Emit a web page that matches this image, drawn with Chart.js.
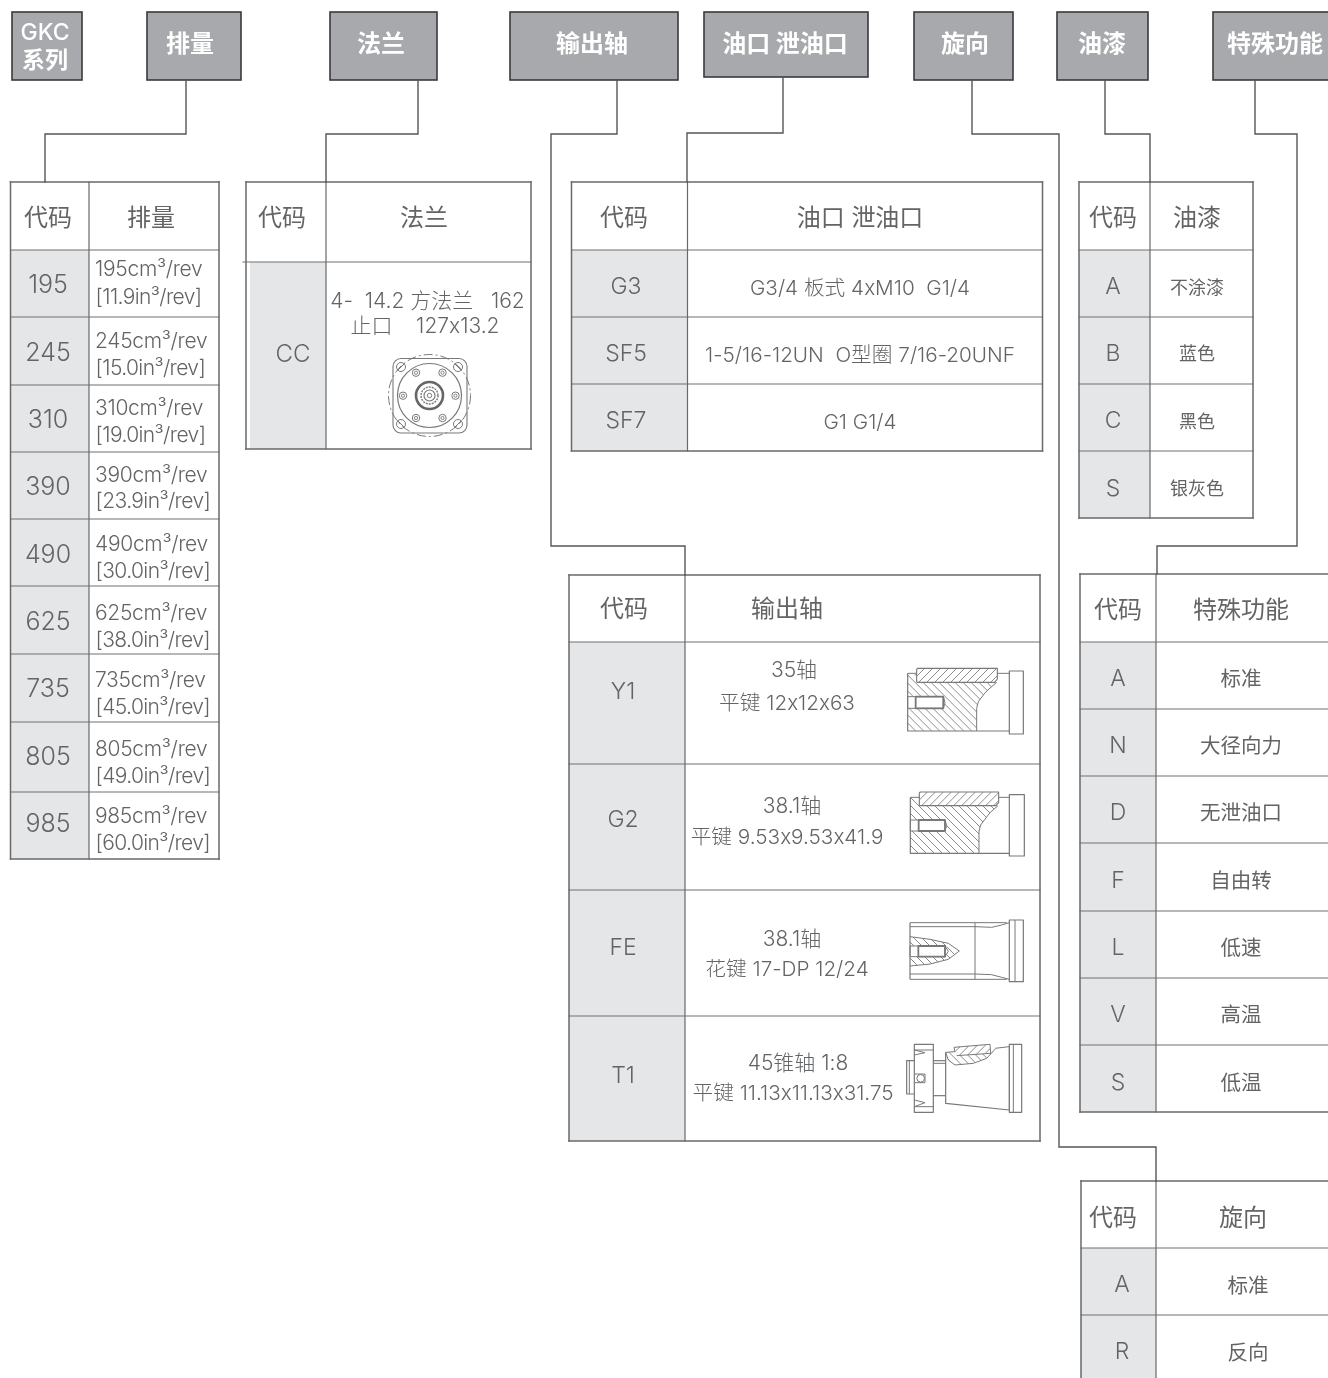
<!DOCTYPE html>
<html><head><meta charset="utf-8">
<style>html,body{margin:0;padding:0;background:#fff;overflow:hidden}canvas{display:block}</style>
<script src="https://cdn.jsdelivr.net/npm/chart.js@4"></script>
</head><body><canvas id="c" width="1328" height="1378"></canvas>
<script>
// ---- texts ----
const headerLabels = ['排量','法兰','输出轴','油口 泄油口','旋向','油漆','特殊功能'];
const seriesLabels = ['GKC','系列'];
const colCode = '代码';
const dispCodes = ['195','245','310','390','490','625','735','805','985'];
const dispCm = ['195cm³/rev','245cm³/rev','310cm³/rev','390cm³/rev','490cm³/rev','625cm³/rev','735cm³/rev','805cm³/rev','985cm³/rev'];
const dispIn = ['[11.9in³/rev]','[15.0in³/rev]','[19.0in³/rev]','[23.9in³/rev]','[30.0in³/rev]','[38.0in³/rev]','[45.0in³/rev]','[49.0in³/rev]','[60.0in³/rev]'];
const flangeCodes = ['CC'];
const flangeText = ['4-  14.2 方法兰   162','止口    127x13.2'];
const portCodes = ['G3','SF5','SF7'];
const portText = ['G3/4 板式 4xM10  G1/4','1-5/16-12UN  O型圈 7/16-20UNF','G1 G1/4'];
const shaftCodes = ['Y1','G2','FE','T1'];
const shaftLine1 = ['35轴','38.1轴','38.1轴','45锥轴 1:8'];
const shaftLine2 = ['平键 12x12x63','平键 9.53x9.53x41.9','花键 17-DP 12/24','平键 11.13x11.13x31.75'];
const paintCodes = ['A','B','C','S'];
const paintText = ['不涂漆','蓝色','黑色','银灰色'];
const specialCodes = ['A','N','D','F','L','V','S'];
const specialText = ['标准','大径向力','无泄油口','自由转','低速','高温','低温'];
const rotCodes = ['A','R'];
const rotText = ['标准','反向'];

// ---- layout, in page units of the two linear scales ----
const boxX = [[147,241],[330,437],[510,678],[704,868],[914,1013],[1057,1148],[1213,1340]];
const boxY = [[12,80],[12,80],[12,80],[12,77],[12,80],[12,80],[12,80]];
const boxTextX = [190,381,592,785,965,1102,1275];
const links = [
 [[186,81],[186,134],[45,134],[45,182]],
 [[418,81],[418,134],[326,134],[326,182]],
 [[617,81],[617,134],[551,134],[551,546],[685,546],[685,575]],
 [[783,77],[783,133],[687,133],[687,182]],
 [[972,81],[972,134],[1059,134],[1059,1147],[1156,1147],[1156,1181]],
 [[1105,81],[1105,134],[1150,134],[1150,182]],
 [[1255,81],[1255,134],[1297,134],[1297,546],[1157,546],[1157,574]]
];
const tables = [
 {x:[10.5,89,219],   y:[182,250,317,385,452,519,586,654,722,792,859], g:10.5},
 {x:[246,326,531],   y:[182,262,449], g:250},
 {x:[571.5,687.5,1042.5], y:[182,250,317,384,451], g:571.5},
 {x:[569,685,1040],  y:[575,642,764,890,1016,1141], g:569},
 {x:[1079,1150,1253],y:[182,250,317,384,451,518], g:1079},
 {x:[1080,1156,1340],y:[574,642,709,776,843,911,978,1045,1112], g:1080},
 {x:[1081,1156,1340],y:[1181,1248,1315,1390], g:1081}
];
const SOFT='#636466', GREY='#e5e6e8', BOX='#a7a9ac';
const FONT='"Inter","Noto Sans CJK SC",sans-serif';

// line datasets
const datasets=[];
function seg(pts,color,w){datasets.push({type:'scatter',showLine:true,data:pts.map(p=>({x:p[0],y:p[1]})),borderColor:color,borderWidth:w,pointRadius:0,tension:0,borderJoinStyle:'miter',borderCapStyle:'square',fill:false,clip:false});}
links.forEach(l=>seg(l,'#555658',1.4));
tables.forEach((t,i)=>{
  const [x0,x1,x2]=t.x, ys=t.y, top=ys[0], bot=ys[ys.length-1];
  seg([[x0,top],[x2,top]],'#68696b',1.5);
  seg([[x0,top],[x0,bot]],'#68696b',1.5);
  seg([[x1,top],[x1,bot]],'#68696b',1.2);
  seg([[x2,top],[x2,bot]],'#68696b',1.5);
  seg([[x0,bot],[x2,bot]],'#68696b',1.5);
  ys.slice(1,-1).forEach(y=>seg([[i==1?243:x0,y],[x2,y]],'#707173',1.2));
});

// helpers over the chart scales
let ctx,X,Y;
function txt(s,x,y,size,opt={}){ctx.font=(opt.w||300)+' '+size+'px '+FONT;ctx.letterSpacing=(opt.ls||0)+'px';ctx.textRendering='optimizeSpeed';ctx.fillStyle=opt.c||SOFT;ctx.textAlign=opt.a||'center';ctx.textBaseline='middle';ctx.fillText(s,X(x),Y(y)+4);}
function col(list,x,ys,size,o){list.forEach((s,i)=>txt(s,x,ys[i],size,o));}
function zoomPt(ox,oy){return (a,b)=>[X(ox+a/3),Y(oy+b/3)];}
function path(pts,z,close,w,c){ctx.beginPath();pts.forEach((p,i)=>{const q=z(p[0],p[1]);i?ctx.lineTo(q[0],q[1]):ctx.moveTo(q[0],q[1]);});if(close)ctx.closePath();ctx.lineWidth=w||1;ctx.strokeStyle=c||'#77787a';ctx.stroke();}
function hatch(pts,z,dir,step){ctx.save();ctx.beginPath();pts.forEach((p,i)=>{const q=z(p[0],p[1]);i?ctx.lineTo(q[0],q[1]):ctx.moveTo(q[0],q[1]);});ctx.closePath();ctx.clip();
 const xs=pts.map(p=>z(p[0],p[1])[0]),ys=pts.map(p=>z(p[0],p[1])[1]);const a=Math.min(...xs),b=Math.max(...xs),c=Math.min(...ys),d=Math.max(...ys),h=d-c;
 ctx.beginPath();for(let v=a-h-step;v<b+h+step;v+=step){if(dir>0){ctx.moveTo(v,d);ctx.lineTo(v+h,c);}else{ctx.moveTo(v,c);ctx.lineTo(v+h,d);}}
 ctx.lineWidth=.9;ctx.strokeStyle='#7d7e80';ctx.stroke();ctx.restore();}
function rect(z,a,b,c,d,w,col_){path([[a,b],[c,b],[c,d],[a,d]],z,true,w,col_);}
function circ(cx,cy,r,w,c,dash){ctx.beginPath();ctx.arc(X(cx),Y(cy),r,0,Math.PI*2);ctx.lineWidth=w;ctx.strokeStyle=c||'#77787a';ctx.setLineDash(dash||[]);ctx.stroke();ctx.setLineDash([]);}

function shaftKeyed(z,L,R,T,B,kL,kR,kT,kB,hT,hB,hI,hR,fL,fR,fT,fB){
  const body=[[L,T],[kL,T],[kL,kB],[kR-2,kB],[kR-25,kB+20],[R+25,(kB+hT)/2+10],[R+5,hT+15],[R,hB],[R,B],[L,B]];
  hatch(body,z,-1,8);
  hatch([[kL,kT],[kR,kT],[kR,kB-8],[kR-8,kB],[kL+3,kB]],z,1,8);
  ctx.save();ctx.fillStyle='#fff';const a=z(L,hT),b=z(hR+5,hB);ctx.fillRect(a[0],a[1],b[0]-a[0],b[1]-a[1]);ctx.restore();
  path([[kR,T],[fL,T]],z,false,1);
  path([[kL,kB],[kL,kT+3],[kL+3,kT],[kR,kT],[kR,kB-10],[kR-8,kB],[kL,kB]],z,false,1.1);
  path([[L,T],[kL,T]],z,false,1); path([[L,T],[L,B],[fL,B]],z,false,1.2);
  path(body.slice(3,9),z,false,1);
  rect(z,L,hT,hR,hB,1); rect(z,hI,hT,hR,hB,1.8,'#77787a');
  path([[hR,hT],[hR+5,(hT+hB)/2],[hR,hB]],z,false,1);
  ctx.lineJoin='round';rect(z,fL,fT,fR,fB,1.2);
}

const drawPlugin={id:'diagram',
 beforeDatasetsDraw(ch){ctx=ch.ctx;const sx=ch.scales.x,sy=ch.scales.y;X=v=>sx.getPixelForValue(v);Y=v=>sy.getPixelForValue(v);
  ctx.save();
  tables.forEach(t=>{ctx.fillStyle=GREY;const top=t.y[1],bot=t.y[t.y.length-1];ctx.fillRect(X(t.g),Y(top),X(t.x[1])-X(t.g),Y(bot)-Y(top));});
  const bx=[[12,82,12,80]].concat(boxX.map((b,i)=>[b[0],b[1],boxY[i][0],boxY[i][1]]));
  bx.forEach(b=>{ctx.fillStyle=BOX;ctx.fillRect(X(b[0]),Y(b[2]),X(b[1])-X(b[0]),Y(b[3])-Y(b[2]));ctx.lineWidth=1.6;ctx.strokeStyle='#3a3a3c';ctx.strokeRect(X(b[0]),Y(b[2]),X(b[1])-X(b[0]),Y(b[3])-Y(b[2]));});
  ctx.restore();
 },
 afterDatasetsDraw(ch){
  ctx=ch.ctx;ctx.save();
  txt(seriesLabels[0],45,29,23,{c:'#fff',w:500});txt(seriesLabels[1],45,57,23,{c:'#fff',w:700});
  headerLabels.forEach((s,i)=>txt(s,boxTextX[i],41,24,{c:'#fff',w:700}));
  [[48,151,215,'排量'],[282,424,215,'法兰'],[624,860,215,'油口 泄油口'],[624,787,606,'输出轴'],[1113,1197,215,'油漆'],[1118,1241,607,'特殊功能'],[1113,1243,1215,'旋向']]
   .forEach(h=>{txt(colCode,h[0],h[2],24,{w:400});txt(h[3],h[1],h[2],24,{w:400});});
  col(dispCodes,48,[281,349,416,483,551,618,685,753,820],25);
  col(dispCm,95,[266,338,405,472,541,610,677,746,813],21,{a:'left',ls:-.3});
  col(dispIn,95.5,[294,365,432,498,568,637,704,773,840],21,{a:'left',ls:-.6});
  col(flangeCodes,293,[351],24);
  txt(flangeText[0],427.5,298,21);txt(flangeText[1],425,323,21);
  col(portCodes,626,[283,350,417],23);
  col(portText,860,[285,352,419],20.7);
  col(shaftCodes,623,[688,816,944,1072],23);
  [[794,667],[792,803],[792,936],[798,1060]].forEach((p,i)=>txt(shaftLine1[i],p[0],p[1],21));
  [[787,700],[787,834],[787,966],[793,1090]].forEach((p,i)=>txt(shaftLine2[i],p[0],p[1],20.7));
  col(paintCodes,1113,[283,350,417,485],23);
  col(paintText,1197,[285,351,419,486],18,{w:400});
  col(specialCodes,1118,[675,742,809,877,944,1011,1079],23);
  col(specialText,1241,[676,743,810,878,945,1012,1080],20.5,{w:400});
  col(rotCodes,1122,[1281,1348],23);
  col(rotText,1248,[1283,1350],20.5,{w:400});

  // flange drawing
  ctx.lineJoin='round';
  ctx.beginPath();ctx.roundRect(X(393),Y(358.5),74,74.5,8);ctx.lineWidth=1.1;ctx.strokeStyle='#77787a';ctx.stroke();
  circ(429.5,395.5,41,1,'#77787a',[9,3,2,3]);
  circ(429.5,395.5,32,1.2);circ(429.5,395.5,13.5,2.6,'#666');circ(429.5,395.5,8.5,1.4,'#77787a',[2,1]);circ(429.5,395.5,5.5,1.2);circ(429.5,395.5,2.2,1);
  [[416,372.7],[442.5,372.7],[403,395.7],[455.5,395.7],[416,418],[442.5,418]].forEach(p=>{circ(p[0],p[1],3.7,1);circ(p[0],p[1],1.6,.9);});
  [[401,367],[458,367],[401,424],[458,424]].forEach((p,i)=>{circ(p[0],p[1],4.5,1);const s=(i==0||i==3)?1:-1;ctx.beginPath();ctx.moveTo(X(p[0]-3.5),Y(p[1]+3.5*s));ctx.lineTo(X(p[0]+3.5),Y(p[1]-3.5*s));ctx.lineWidth=1;ctx.stroke();});

  // shaft Y1, G2
  shaftKeyed(zoomPt(880,640),83,290,100,273,110,352,85,127,170,205,107,190,388,430,93,282);
  shaftKeyed(zoomPt(880,640),91,297,472,640,118,356,456,497,540,573,116,195,388,433,464,648);

  // shaft FE
  let z=zoomPt(880,890);
  hatch([[90,140],[150,148],[205,160],[238,183],[205,208],[150,222],[90,228]],z,-1,8);
  ctx.fillStyle='#fff';let a=z(90,168),b=z(200,200);ctx.fillRect(a[0],a[1],b[0]-a[0],b[1]-a[1]);
  path([[90,140],[150,148],[205,160],[238,183],[205,208],[150,222],[90,228]],z,false,1);
  path([[90,98],[380,98]],z,false,1);path([[90,268],[380,268]],z,false,1);path([[90,98],[90,268]],z,false,1.2);
  path([[90,110],[285,110],[335,112],[365,105],[388,98]],z,false,1);path([[90,252],[285,252],[335,254],[365,262],[388,268]],z,false,1);
  path([[285,98],[285,268]],z,false,1);
  rect(z,90,168,195,200,1);rect(z,115,168,195,200,1.8);path([[195,168],[205,184],[195,200]],z,false,1);
  rect(z,388,90,430,275,1.2);path([[405,90],[405,275]],z,false,1);

  // shaft T1
  rect(z,103,463,160,667,1.2);
  path([[103,480],[160,480]],z,false,1);path([[103,650],[160,650]],z,false,1);
  path([[103,495],[135,488],[103,480]],z,false,1);path([[103,630],[135,638],[103,650]],z,false,1);
  path([[103,512],[80,512],[80,612],[103,612]],z,false,1.2);path([[88,512],[88,612]],z,false,1);
  path([[160,512],[197,512]],z,false,1.2);path([[160,520],[197,520]],z,false,1);path([[160,617],[197,617]],z,false,1.2);
  hatch([[197,487],[225,485],[225,470],[330,462],[330,480],[345,478],[320,505],[280,520],[225,525],[205,510]],z,-1,8);
  ctx.fillStyle='#fff';ctx.beginPath();[[222,472],[330,464],[332,490],[230,497]].forEach((p,i)=>{const q=z(p[0],p[1]);i?ctx.lineTo(q[0],q[1]):ctx.moveTo(q[0],q[1]);});ctx.closePath();ctx.fill();
  hatch([[222,472],[330,464],[332,490],[230,497]],z,1,8);
  path([[197,487],[225,485],[222,472],[330,463],[332,490],[230,497]],z,false,1);
  path([[197,487],[205,510],[225,525],[280,520],[320,505],[345,478]],z,false,1);
  path([[197,487],[197,640],[388,660]],z,false,1.2);path([[345,475],[388,470],[388,660]],z,false,1);
  rect(z,388,463,425,667,1.2);path([[400,463],[400,667]],z,false,1);
  path([[103,552],[135,552],[135,578],[103,578]],z,false,1);
  ctx.beginPath();const c=z(122,565);ctx.arc(c[0],c[1],3.8,0,7);ctx.lineWidth=1;ctx.stroke();
  ctx.restore();
 }};

new Chart(document.getElementById('c'),{type:'scatter',data:{datasets},plugins:[drawPlugin],
 options:{responsive:false,animation:false,devicePixelRatio:1,layout:{padding:0},
  plugins:{legend:{display:false},tooltip:{enabled:false}},
  scales:{x:{type:'linear',display:false,min:0,max:1328},y:{type:'linear',display:false,min:0,max:1378,reverse:true}}}});
</script></body></html>
